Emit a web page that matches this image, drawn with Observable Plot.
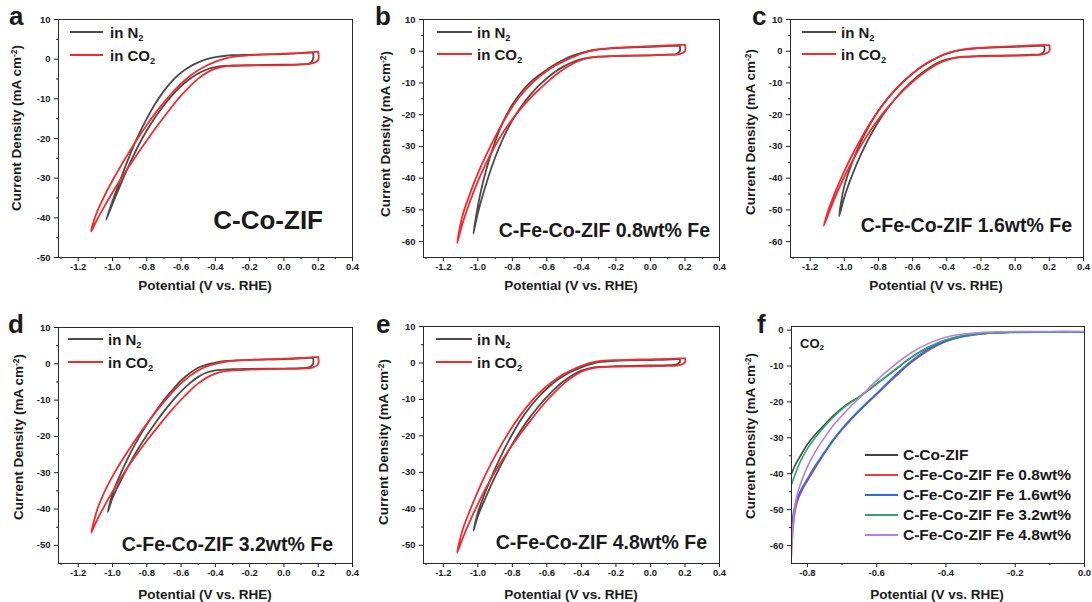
<!DOCTYPE html>
<html><head><meta charset="utf-8">
<script src="https://cdn.jsdelivr.net/npm/d3@7"></script>
<script src="https://cdn.jsdelivr.net/npm/@observablehq/plot@0.6"></script>
<style>
html,body{margin:0;padding:0;background:#fff;}
#fig{position:relative;width:1092px;height:602px;overflow:hidden;font-family:"Liberation Sans",Arial,sans-serif;font-weight:bold;color:#1a1a1a;}
#fig svg{position:absolute;overflow:visible;}
.t{position:absolute;white-space:nowrap;line-height:1;}
.sw{position:absolute;height:2px;}
sub{font-size:0.62em;vertical-align:-0.3em;line-height:0;}
sup{font-size:0.62em;vertical-align:0.55em;line-height:0;}
</style></head><body><div id="fig"></div>
<script>
// ---------- tick labels ----------
const xMajorCV = [-1.2, -1.0, -0.8, -0.6, -0.4, -0.2, 0.0, 0.2, 0.4];
const xMinorCV = [-1.3, -1.1, -0.9, -0.7, -0.5, -0.3, -0.1, 0.1, 0.3];
const yMajorA = [10, 0, -10, -20, -30, -40, -50];
const yMinorA = [5, -5, -15, -25, -35, -45];
const yMajorBC = [10, 0, -10, -20, -30, -40, -50, -60];
const yMinorBC = [5, -5, -15, -25, -35, -45, -55];
const yMajorDE = [10, 0, -10, -20, -30, -40, -50];
const yMinorDE = [5, -5, -15, -25, -35, -45];
const xMajorF = [-0.8, -0.6, -0.4, -0.2, 0.0];
const xMinorF = [-0.7, -0.5, -0.3, -0.1];
const yMajorF = [0, -10, -20, -30, -40, -50, -60];
const yMinorF = [-5, -15, -25, -35, -45, -55];

// ---------- CV loops [potential V, current density mA cm-2] ----------
const cvA_N2 = [[0.17,1.7],[0.1,1.5],[0,1.3],[-0.1,1.2],[-0.2,1.1],[-0.3,1.0],[-0.35,0.8],[-0.4,0.5],[-0.45,0.0],[-0.5,-0.8],[-0.55,-1.9],[-0.6,-3.4],[-0.65,-5.4],[-0.7,-8.0],[-0.75,-11.2],[-0.8,-15.0],[-0.85,-19.3],[-0.9,-24.3],[-0.95,-29.9],[-1.0,-35.8],[-1.037,-40.5],
  [-1.0,-36.5],[-0.95,-31.3],[-0.9,-26.4],[-0.85,-21.9],[-0.8,-18.0],[-0.75,-14.6],[-0.7,-11.6],[-0.65,-9.0],[-0.6,-6.8],[-0.55,-5.0],[-0.5,-3.6],[-0.45,-2.6],[-0.4,-2.0],[-0.35,-1.7],[-0.3,-1.6],[-0.2,-1.5],[0,-1.4],[0.1,-1.3],[0.15,-1.1],[0.17,0],[0.17,1.7]];
const cvA_CO2 = [[0.2,1.9],[0.1,1.6],[0,1.4],[-0.1,1.2],[-0.2,1.0],[-0.3,0.6],[-0.35,0.1],[-0.4,-0.6],[-0.45,-1.6],[-0.5,-2.8],[-0.55,-4.3],[-0.6,-6.2],[-0.65,-8.4],[-0.7,-10.9],[-0.75,-13.6],[-0.8,-16.6],[-0.85,-19.8],[-0.9,-23.2],[-0.95,-26.8],[-1.0,-30.6],[-1.05,-34.7],[-1.1,-39.6],[-1.124,-43.4],
  [-1.1,-41.3],[-1.05,-37.3],[-1.0,-33.6],[-0.95,-30.1],[-0.9,-26.8],[-0.85,-23.6],[-0.8,-20.5],[-0.75,-17.5],[-0.7,-14.6],[-0.65,-11.8],[-0.6,-9.2],[-0.55,-6.9],[-0.5,-4.9],[-0.45,-3.4],[-0.4,-2.4],[-0.35,-1.9],[-0.3,-1.7],[-0.2,-1.6],[0,-1.5],[0.1,-1.3],[0.17,-1.0],[0.2,-0.2],[0.2,1.9]];

const cvB_N2 = [[0.17,1.8],[0.1,1.6],[0,1.4],[-0.1,1.2],[-0.2,1.0],[-0.3,0.6],[-0.35,0.2],[-0.4,-0.5],[-0.45,-1.4],[-0.5,-2.6],[-0.55,-4.0],[-0.6,-5.8],[-0.65,-7.7],[-0.7,-10.0],[-0.75,-13.0],[-0.8,-16.8],[-0.85,-21.8],[-0.9,-28.5],[-0.95,-37.0],[-0.99,-46.0],[-1.026,-57.5],
  [-1.0,-51],[-0.95,-41.5],[-0.9,-33.5],[-0.85,-27],[-0.8,-21.8],[-0.75,-17.5],[-0.7,-14],[-0.65,-11],[-0.6,-8.5],[-0.55,-6.4],[-0.5,-4.7],[-0.45,-3.4],[-0.4,-2.5],[-0.35,-2.0],[-0.3,-1.7],[-0.2,-1.5],[0,-1.3],[0.1,-1.1],[0.15,-0.9],[0.17,0],[0.17,1.8]];
const cvB_CO2 = [[0.2,2.1],[0.1,1.8],[0,1.6],[-0.1,1.4],[-0.2,1.1],[-0.3,0.6],[-0.35,0.0],[-0.4,-0.8],[-0.45,-1.9],[-0.5,-3.1],[-0.55,-4.5],[-0.6,-6.2],[-0.65,-8.3],[-0.7,-10.8],[-0.75,-13.8],[-0.8,-17.5],[-0.85,-22.0],[-0.9,-27.0],[-0.95,-32.5],[-1.0,-38.5],[-1.05,-45.5],[-1.09,-52.0],[-1.12,-60.5],
  [-1.09,-54.5],[-1.05,-48],[-1.0,-41],[-0.95,-35],[-0.9,-29.8],[-0.85,-25.3],[-0.8,-21.4],[-0.75,-18],[-0.7,-15],[-0.65,-12.3],[-0.6,-9.8],[-0.55,-7.5],[-0.5,-5.5],[-0.45,-3.9],[-0.4,-2.7],[-0.35,-2.0],[-0.3,-1.7],[-0.2,-1.5],[0,-1.3],[0.1,-1.1],[0.17,-0.9],[0.2,0],[0.2,2.1]];

const cvC_N2 = [[0.17,1.8],[0.1,1.6],[0,1.4],[-0.1,1.2],[-0.2,1.0],[-0.3,0.5],[-0.35,0],[-0.4,-0.8],[-0.45,-1.9],[-0.5,-3.3],[-0.55,-5.0],[-0.6,-7.0],[-0.65,-9.3],[-0.7,-12.0],[-0.75,-15.1],[-0.8,-18.7],[-0.85,-23.0],[-0.9,-28.2],[-0.95,-34.5],[-1.0,-42.5],[-1.03,-52],
  [-1.0,-46],[-0.95,-38.5],[-0.9,-32.2],[-0.85,-26.8],[-0.8,-22.2],[-0.75,-18.3],[-0.7,-14.9],[-0.65,-11.9],[-0.6,-9.3],[-0.55,-7.0],[-0.5,-5.1],[-0.45,-3.6],[-0.4,-2.6],[-0.35,-2.0],[-0.3,-1.7],[-0.2,-1.5],[0,-1.3],[0.1,-1.1],[0.15,-0.9],[0.17,0],[0.17,1.8]];
const cvC_CO2 = [[0.2,2.0],[0.1,1.8],[0,1.6],[-0.1,1.4],[-0.2,1.1],[-0.3,0.6],[-0.35,0.1],[-0.4,-0.7],[-0.45,-1.8],[-0.5,-3.2],[-0.55,-4.9],[-0.6,-7.0],[-0.65,-9.4],[-0.7,-12.1],[-0.75,-15.2],[-0.8,-18.8],[-0.85,-22.8],[-0.9,-27.3],[-0.95,-32.3],[-1.0,-37.8],[-1.05,-44],[-1.09,-49.5],[-1.12,-55],
  [-1.09,-50.8],[-1.05,-45.5],[-1.0,-39.6],[-0.95,-34.3],[-0.9,-29.5],[-0.85,-25.2],[-0.8,-21.4],[-0.75,-18],[-0.7,-14.9],[-0.65,-12.1],[-0.6,-9.6],[-0.55,-7.4],[-0.5,-5.5],[-0.45,-3.9],[-0.4,-2.8],[-0.35,-2.1],[-0.3,-1.8],[-0.2,-1.6],[0,-1.4],[0.1,-1.2],[0.17,-0.9],[0.2,0],[0.2,2.0]];

const cvD_N2 = [[0.17,1.7],[0.1,1.5],[0,1.3],[-0.1,1.2],[-0.2,1.1],[-0.3,0.9],[-0.35,0.7],[-0.4,0.3],[-0.45,-0.2],[-0.5,-1.1],[-0.55,-2.6],[-0.6,-4.6],[-0.65,-7.2],[-0.7,-10.0],[-0.75,-13.2],[-0.8,-16.7],[-0.85,-20.6],[-0.9,-25.0],[-0.95,-30.0],[-1.0,-35.8],[-1.027,-40.8],
  [-1.0,-37],[-0.95,-32],[-0.9,-27.5],[-0.85,-23.4],[-0.8,-19.7],[-0.75,-16.3],[-0.7,-13.1],[-0.65,-10.2],[-0.6,-7.6],[-0.55,-5.4],[-0.5,-3.6],[-0.45,-2.4],[-0.4,-1.8],[-0.3,-1.5],[-0.2,-1.4],[0,-1.3],[0.1,-1.2],[0.15,-0.9],[0.17,0],[0.17,1.7]];
const cvD_CO2 = [[0.2,1.9],[0.1,1.6],[0,1.4],[-0.1,1.2],[-0.2,1.1],[-0.3,0.8],[-0.35,0.5],[-0.4,0],[-0.45,-0.7],[-0.5,-1.8],[-0.55,-3.4],[-0.6,-5.4],[-0.65,-7.8],[-0.7,-10.5],[-0.75,-13.4],[-0.8,-16.5],[-0.85,-19.8],[-0.9,-23.3],[-0.95,-27.0],[-1.0,-31.0],[-1.05,-35.6],[-1.09,-40.3],[-1.123,-46.5],
  [-1.1,-44],[-1.05,-39.4],[-1.0,-35.2],[-0.95,-31.3],[-0.9,-27.7],[-0.85,-24.4],[-0.8,-21.2],[-0.75,-18.2],[-0.7,-15.3],[-0.65,-12.5],[-0.6,-9.9],[-0.55,-7.5],[-0.5,-5.4],[-0.45,-3.8],[-0.4,-2.7],[-0.35,-2.1],[-0.3,-1.8],[-0.2,-1.6],[0,-1.4],[0.1,-1.3],[0.17,-1.0],[0.2,0],[0.2,1.9]];

const cvE_N2 = [[0.17,1.1],[0.1,0.9],[0,0.8],[-0.2,0.6],[-0.3,0.2],[-0.35,-0.4],[-0.4,-1.2],[-0.45,-2.2],[-0.5,-3.4],[-0.55,-5.0],[-0.6,-7.0],[-0.65,-9.4],[-0.7,-12.2],[-0.75,-15.5],[-0.8,-19.5],[-0.85,-24.0],[-0.9,-29.0],[-0.95,-34.6],[-1.0,-41],[-1.025,-46],
  [-1.0,-42],[-0.95,-36.4],[-0.9,-31.2],[-0.85,-26.5],[-0.8,-22.2],[-0.75,-18.4],[-0.7,-15.0],[-0.65,-12.0],[-0.6,-9.3],[-0.55,-6.9],[-0.5,-4.9],[-0.45,-3.3],[-0.4,-2.1],[-0.35,-1.4],[-0.3,-1.1],[-0.2,-0.9],[0,-0.7],[0.1,-0.6],[0.15,-0.4],[0.17,0.2],[0.17,1.1]];
const cvE_CO2 = [[0.2,1.3],[0.1,1.1],[0,1.0],[-0.1,0.9],[-0.2,0.8],[-0.3,0.5],[-0.35,0],[-0.4,-0.8],[-0.45,-1.8],[-0.5,-3.0],[-0.55,-4.5],[-0.6,-6.3],[-0.65,-8.5],[-0.7,-11.1],[-0.75,-14.1],[-0.8,-17.5],[-0.85,-21.3],[-0.9,-25.5],[-0.95,-30.1],[-1.0,-35.2],[-1.05,-40.9],[-1.09,-46],[-1.12,-52],
  [-1.09,-48.3],[-1.05,-43.8],[-1.0,-38.7],[-0.95,-34.0],[-0.9,-29.8],[-0.85,-26.0],[-0.8,-22.5],[-0.75,-19.2],[-0.7,-16.1],[-0.65,-13.1],[-0.6,-10.3],[-0.55,-7.8],[-0.5,-5.6],[-0.45,-3.8],[-0.4,-2.4],[-0.35,-1.6],[-0.3,-1.2],[-0.2,-1.0],[0,-0.9],[0.1,-0.8],[0.17,-0.6],[0.2,0.2],[0.2,1.3]];

// ---------- LSV curves in CO2 (panel f) ----------
const lsv_CoZIF = [[-0.846,-40],[-0.835,-37.5],[-0.82,-35],[-0.8,-31.8],[-0.775,-28.8],[-0.75,-26.3],[-0.725,-23.8],[-0.7,-21.7],[-0.675,-20],[-0.65,-18.6],[-0.6,-15],[-0.55,-11.3],[-0.5,-7.6],[-0.45,-4.8],[-0.4,-2.8],[-0.35,-1.6],[-0.3,-1.0],[-0.25,-0.7],[-0.2,-0.6],[-0.1,-0.5],[0,-0.5]];
const lsv_Fe08 = [[-0.846,-61],[-0.843,-57],[-0.838,-52],[-0.83,-48],[-0.815,-44.5],[-0.8,-42],[-0.775,-38],[-0.75,-34.2],[-0.725,-30.7],[-0.7,-27.7],[-0.675,-25],[-0.65,-22.5],[-0.6,-17.9],[-0.55,-13.3],[-0.5,-9.0],[-0.45,-5.6],[-0.4,-3.2],[-0.35,-1.8],[-0.3,-1.1],[-0.25,-0.7],[-0.2,-0.6],[-0.1,-0.5],[0,-0.5]];
const lsv_Fe16 = [[-0.846,-55],[-0.84,-51],[-0.83,-47],[-0.815,-44],[-0.8,-41.5],[-0.775,-37.5],[-0.75,-34],[-0.725,-30.5],[-0.7,-27.5],[-0.675,-24.8],[-0.65,-22.3],[-0.6,-17.7],[-0.55,-13],[-0.5,-8.7],[-0.45,-5.3],[-0.4,-3.0],[-0.35,-1.7],[-0.3,-1.0],[-0.25,-0.7],[-0.2,-0.6],[-0.1,-0.5],[0,-0.5]];
const lsv_Fe32 = [[-0.846,-43],[-0.835,-40],[-0.82,-36.5],[-0.8,-33],[-0.775,-29.6],[-0.75,-26.8],[-0.725,-24.2],[-0.7,-22],[-0.675,-20.2],[-0.65,-18.5],[-0.6,-14.9],[-0.55,-11.2],[-0.5,-7.6],[-0.45,-4.7],[-0.4,-2.7],[-0.35,-1.5],[-0.3,-1.0],[-0.25,-0.7],[-0.2,-0.6],[-0.1,-0.5],[0,-0.5]];
const lsv_Fe48 = [[-0.846,-63],[-0.843,-57],[-0.838,-51],[-0.83,-46],[-0.815,-41.5],[-0.8,-38],[-0.775,-33.5],[-0.75,-29.8],[-0.725,-26.5],[-0.7,-23.8],[-0.675,-21.2],[-0.65,-18.9],[-0.6,-14],[-0.55,-9.8],[-0.5,-6.3],[-0.45,-3.7],[-0.4,-2.0],[-0.35,-1.1],[-0.3,-0.7],[-0.25,-0.5],[-0.2,-0.4],[-0.1,-0.4],[0,-0.4]];

const cvLegend = ["in N<sub>2</sub>", "in CO<sub>2</sub>"];
const lsvNames = ["C-Co-ZIF", "C-Fe-Co-ZIF Fe 0.8wt%", "C-Fe-Co-ZIF Fe 1.6wt%", "C-Fe-Co-ZIF Fe 3.2wt%", "C-Fe-Co-ZIF Fe 4.8wt%"];
const sampleNames = ["C-Co-ZIF", "C-Fe-Co-ZIF 0.8wt% Fe", "C-Fe-Co-ZIF 1.6wt% Fe", "C-Fe-Co-ZIF 3.2wt% Fe", "C-Fe-Co-ZIF 4.8wt% Fe"];

// ---------- styling ----------
const GRAY = "#4b4b4b", RED = "#f52a2d";
const lsvColors = ["#434343", "#f03c3c", "#2b6fe3", "#2fa866", "#b77ee8"];
const fig = document.getElementById("fig");

function addText(html, x, baseline, size, anchor = "start") {
  const d = document.createElement("div");
  d.className = "t";
  d.innerHTML = html;
  d.style.fontSize = size + "px";
  d.style.left = x + "px";
  d.style.top = (baseline - 0.8465 * size) + "px";
  if (anchor === "end") d.style.transform = "translateX(-100%)";
  if (anchor === "middle") d.style.transform = "translateX(-50%)";
  fig.appendChild(d);
}
function addYLabel(cx, cy) {
  const d = document.createElement("div");
  d.className = "t";
  d.innerHTML = "Current Density (mA cm<sup>-2</sup>)";
  d.style.fontSize = "13.5px";
  d.style.left = cx + "px";
  d.style.top = cy + "px";
  d.style.transform = "translate(-50%,-50%) rotate(-90deg)";
  fig.appendChild(d);
}
function addSwatch(x1, x2, y, color, w = 2) {
  const d = document.createElement("div");
  d.className = "sw";
  d.style.left = x1 + "px";
  d.style.width = (x2 - x1) + "px";
  d.style.top = (y - w / 2) + "px";
  d.style.height = w + "px";
  d.style.background = color;
  fig.appendChild(d);
}

function panel(p) {
  const fmtX = d => d.toFixed(1);
  const fmtY = d => String(d);
  const marks = [
    Plot.axisX(p.xMajor, {tickSize: 4, tickPadding: 2, tickFormat: fmtX, label: null}),
    Plot.axisX(p.xMinor, {tickSize: 2, tickFormat: () => "", label: null}),
    Plot.axisY(p.yMajor, {tickSize: 4, tickPadding: 4, tickFormat: fmtY, label: null}),
    Plot.axisY(p.yMinor, {tickSize: 2, tickFormat: () => "", label: null}),
    ...p.series.map(s => Plot.line(s.data, {x: d => d[0], y: d => d[1], stroke: s.color, strokeWidth: s.width || 1.8, curve: "catmull-rom", clip: true})),
    Plot.frame({stroke: "#2a2a2a", strokeWidth: 1})
  ];
  const svg = Plot.plot({
    width: p.w, height: p.h,
    marginLeft: p.mL, marginRight: p.mR, marginTop: p.mT, marginBottom: p.mB,
    x: {domain: p.xDomain, label: null},
    y: {domain: p.yDomain, label: null},
    style: {fontFamily: "'Liberation Sans', Arial, sans-serif", fontWeight: "bold", fontSize: "9.5px", color: "#1a1a1a", background: "transparent", overflow: "visible"},
    marks
  });
  svg.style.left = p.left + "px";
  svg.style.top = p.top + "px";
  fig.appendChild(svg);
}

const cvPairs = [[cvA_N2, cvA_CO2], [cvB_N2, cvB_CO2], [cvC_N2, cvC_CO2], [cvD_N2, cvD_CO2], [cvE_N2, cvE_CO2]];
const cvLayout = [
  {left: 0,   top: 0,   w: 362, h: 300, mL: 58, mR: 10, mT: 19, mB: 43, yDomain: [-50, 10], yMajor: yMajorA,  yMinor: yMinorA},
  {left: 365, top: 0,   w: 365, h: 300, mL: 58, mR: 11, mT: 19, mB: 43, yDomain: [-65, 10], yMajor: yMajorBC, yMinor: yMinorBC},
  {left: 732, top: 0,   w: 360, h: 300, mL: 58, mR: 9,  mT: 19, mB: 43, yDomain: [-65, 10], yMajor: yMajorBC, yMinor: yMinorBC},
  {left: 0,   top: 300, w: 362, h: 302, mL: 58, mR: 10, mT: 27, mB: 39, yDomain: [-55, 10], yMajor: yMajorDE, yMinor: yMinorDE},
  {left: 365, top: 300, w: 365, h: 302, mL: 58, mR: 11, mT: 26, mB: 39, yDomain: [-55, 10], yMajor: yMajorDE, yMinor: yMinorDE}
];
cvLayout.forEach((L, i) => {
  panel({...L, xDomain: [-1.315, 0.4], xMajor: xMajorCV, xMinor: xMinorCV,
    series: [{data: cvPairs[i][0], color: GRAY}, {data: cvPairs[i][1], color: RED}]});
});
panel({left: 732, top: 300, w: 360, h: 302, mL: 59, mR: 8, mT: 26, mB: 39,
  xDomain: [-0.846, 0], yDomain: [-65, 1], xMajor: xMajorF, xMinor: xMinorF, yMajor: yMajorF, yMinor: yMinorF,
  series: [lsv_CoZIF, lsv_Fe08, lsv_Fe16, lsv_Fe32, lsv_Fe48].map((d, i) => ({data: d, color: lsvColors[i], width: i === 2 ? 2 : 1.6}))});

// ---------- text overlays ----------
[["a", 9, 25], ["b", 375, 25], ["c", 752, 25], ["d", 8, 333], ["e", 376, 333], ["f", 757, 333]]
  .forEach(([s, x, y]) => addText(s, x, y, 26));
[[205, 290], [571, 290], [936, 290], [205, 599], [571, 599], [937, 599]]
  .forEach(([x, y]) => addText("Potential (V vs. RHE)", x, y, 13.5, "middle"));
[[17, 128], [386, 134], [751, 132], [19, 437], [384, 442], [751, 436]]
  .forEach(([x, y]) => addYLabel(x, y));
const legPos = [[70, 103, 110, 32, 55], [437, 472, 477, 32, 54], [802, 836, 841, 32, 54], [68, 103, 108, 339, 362], [436, 472, 477, 339, 362]];
legPos.forEach(([x1, x2, tx, y1, y2]) => {
  addSwatch(x1, x2, y1, GRAY);
  addSwatch(x1, x2, y2, RED);
  addText(cvLegend[0], tx, y1 + 5.5, 15);
  addText(cvLegend[1], tx, y2 + 5.5, 15);
});
const namePos = [[323, 229, 26], [710, 238, 19.5], [1072, 233, 19.5], [333, 552, 19.5], [707, 550, 19.5]];
namePos.forEach(([x, y, s], i) => addText(sampleNames[i], x, y, s, "end"));
addText("CO<sub>2</sub>", 800, 348, 13);
[455, 475, 495, 515, 535].forEach((y, i) => {
  addSwatch(865, 898, y, lsvColors[i], i === 2 ? 2.5 : 2);
  addText(lsvNames[i], 903, y + 5.5, 15.5);
});
</script></body></html>
